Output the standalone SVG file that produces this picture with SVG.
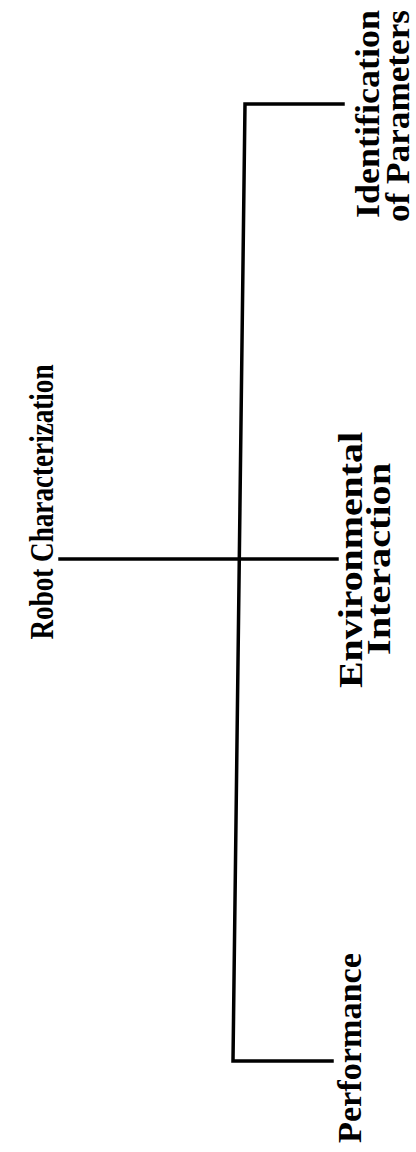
<svg xmlns="http://www.w3.org/2000/svg" width="416" height="1152" viewBox="0 0 416 1152">
<style>
.lbl{font-family:"Liberation Serif","Times New Roman",serif;font-weight:bold;font-size:34px;fill:#000;text-anchor:middle}
.ln{stroke:#000;stroke-width:3.5;fill:none;stroke-linecap:square}
</style>
<rect width="416" height="1152" fill="#fff"/>
<g id="connectors">
<path class="ln" d="M343,104 L245,104 L233,1061 L332,1061"/>
<path class="ln" d="M60,559 L337,559"/>
</g>
<g id="root"><text class="lbl" transform="translate(53,502) rotate(-90)" textLength="275" lengthAdjust="spacingAndGlyphs">Robot Characterization</text></g>
<g id="identification">
<text class="lbl" transform="translate(379,114) rotate(-90)" textLength="208" lengthAdjust="spacingAndGlyphs">Identification</text>
<text class="lbl" transform="translate(409,116) rotate(-90)" textLength="212" lengthAdjust="spacingAndGlyphs">of Parameters</text>
</g>
<g id="environmental">
<text class="lbl" transform="translate(362,560) rotate(-90)" textLength="256" lengthAdjust="spacingAndGlyphs">Environmental</text>
<text class="lbl" transform="translate(390,559) rotate(-90)" textLength="192" lengthAdjust="spacingAndGlyphs">Interaction</text>
</g>
<g id="performance"><text class="lbl" transform="translate(361,1048) rotate(-90)" textLength="190" lengthAdjust="spacingAndGlyphs">Performance</text></g>
</svg>
